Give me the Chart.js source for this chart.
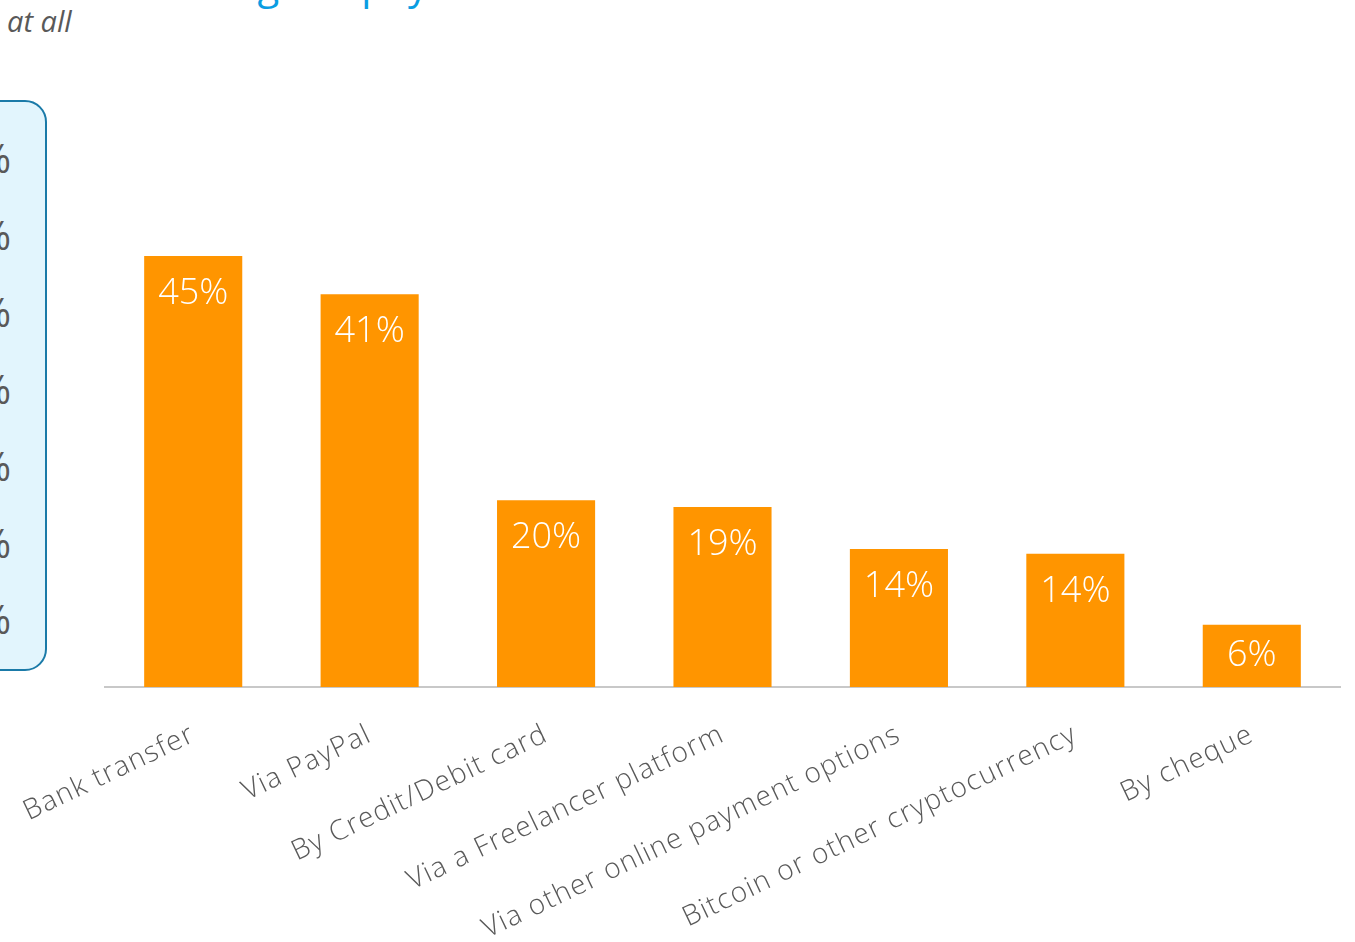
<!DOCTYPE html>
<html>
<head>
<meta charset="utf-8">
<script src="https://cdn.jsdelivr.net/npm/chart.js@4.4.0/dist/chart.umd.min.js"></script>
<style>
  html, body { margin: 0; padding: 0; background: #fff; overflow: hidden; }
  #wrap { position: relative; width: 1355px; height: 942px; }
  #chart { position: absolute; left: 0; top: 0; }
  .title { position: absolute; left: 104px; top: -44px; font-family: "Open Sans", sans-serif; font-size: 40px; color: #0a9de2; white-space: nowrap; }
  .note { position: absolute; left: 7px; top: 1px; font-family: "Open Sans", sans-serif; font-style: italic; font-size: 29px; color: #595959; }
  .box { position: absolute; left: -30px; top: 100px; width: 73px; height: 567px; border: 2px solid #1a7aa8; border-radius: 22px; background: #e2f5fd; }
  .pct { position: absolute; left: -22px; font-family: "Open Sans", sans-serif; font-size: 40px; color: #595959; }
</style>
</head>
<body>
<div id="wrap">
  <div class="title">Receiving the payment</div>
  <div class="note">at all</div>
  <div class="box"></div>
  <div class="pct" style="top:130px">%</div>
  <div class="pct" style="top:207px">%</div>
  <div class="pct" style="top:284px">%</div>
  <div class="pct" style="top:361px">%</div>
  <div class="pct" style="top:438px">%</div>
  <div class="pct" style="top:515px">%</div>
  <div class="pct" style="top:591px">%</div>
  <canvas id="chart" width="1355" height="942"></canvas>
</div>
<script>
const methods = ["Bank transfer", "Via PayPal", "By Credit/Debit card", "Via a Freelancer platform",
                 "Via other online payment options", "Bitcoin or other cryptocurrency", "By cheque"];
const shares = [45, 41, 19.5, 18.8, 14.4, 13.9, 6.5];
const shareLabels = ["45%", "41%", "20%", "19%", "14%", "14%", "6%"];

// the category text in the picture is set quite loosely
const looseText = {
  id: "looseText",
  beforeDraw(chart) { chart.ctx.letterSpacing = "1.3px"; },
  afterDraw(chart) { chart.ctx.letterSpacing = "0px"; }
};

const barLabels = {
  id: "barLabels",
  afterDatasetsDraw(chart) {
    const ctx = chart.ctx;
    const meta = chart.getDatasetMeta(0);
    ctx.save();
    ctx.letterSpacing = "0px";
    ctx.fillStyle = "#ffffff";
    ctx.font = "300 36px 'Open Sans', sans-serif";
    ctx.textAlign = "center";
    ctx.textBaseline = "middle";
    meta.data.forEach((bar, i) => {
      const y = Math.min(bar.y + 38, (bar.y + bar.base) / 2);
      ctx.fillText(shareLabels[i], bar.x, y);
    });
    ctx.restore();
  }
};

new Chart(document.getElementById("chart").getContext("2d"), {
  type: "bar",
  data: {
    labels: methods,
    datasets: [{
      data: shares,
      backgroundColor: "#ff9500",
      borderWidth: 0,
      categoryPercentage: 1,
      barPercentage: 0.556
    }]
  },
  options: {
    responsive: false,
    animation: false,
    layout: { padding: { left: 105, right: 15, top: 208, bottom: 0 } },
    plugins: { legend: { display: false }, tooltip: { enabled: false } },
    scales: {
      x: {
        grid: { display: false },
        border: { display: true, color: "#c8c8c8", width: 2 },
        ticks: {
          color: "#595959",
          font: { family: "'Open Sans', sans-serif", size: 28, weight: 300 },
          minRotation: 25.5,
          maxRotation: 25.5,
          padding: 23,
          autoSkip: false
        },
        afterFit(scale) { scale.height = 255; }
      },
      y: {
        display: false,
        min: 0,
        max: 50
      }
    }
  },
  plugins: [looseText, barLabels]
});
</script>
</body>
</html>
